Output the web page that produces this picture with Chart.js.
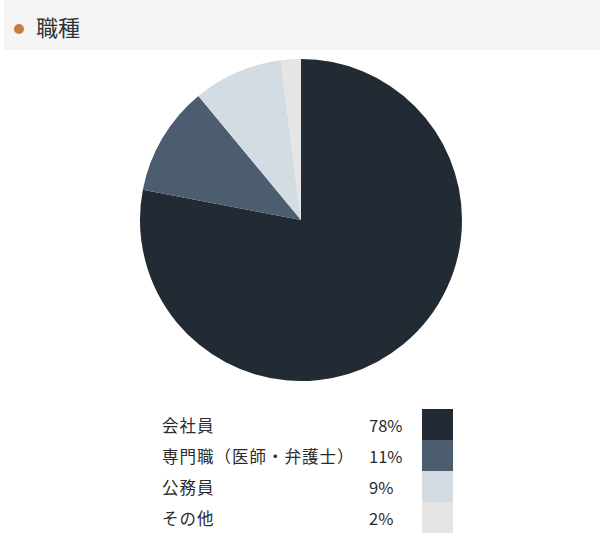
<!DOCTYPE html>
<html>
<head>
  <meta charset="utf-8">
  <title>職種</title>
  <style>
    body {
      margin: 0;
      background-color: #ffffff;
      color: #333333;
      font-family: "Noto Sans CJK JP", "Noto Sans", sans-serif;
      width: 600px;
      height: 545px;
      position: relative;
      overflow: hidden;
    }
    .heading {
      position: absolute;
      left: 4px;
      top: 0;
      width: 596px;
      height: 50px;
      background-color: #f5f5f5;
    }
    .heading .dot {
      position: absolute;
      left: 10px;
      top: 24px;
      width: 10px;
      height: 10px;
      border-radius: 50%;
      background-color: #c47c41;
    }
    .heading h2 {
      position: absolute;
      left: 32px;
      top: 11px;
      margin: 0;
      font-size: 22px;
      font-weight: normal;
      line-height: 30px;
      color: #333333;
    }
    .chart-container {
      position: absolute;
      left: 0;
      top: 50px;
      width: 600px;
      height: 340px;
    }
    table.legend {
      position: absolute;
      left: 162px;
      top: 409px;
      border-collapse: collapse;
      font-size: 16.5px;
      color: #2b2b2b;
    }
    table.legend td {
      padding: 0;
      height: 31px;
    }
    table.legend td.name { width: 207px; letter-spacing: 1px; }
    table.legend td.pct { width: 53px; }
    table.legend td.swatch { width: 31px; }
  </style>
  <script src="https://cdn.jsdelivr.net/npm/chart.js"></script>
</head>
<body>
  <div class="heading">
    <span class="dot"></span>
    <h2>職種</h2>
  </div>
  <div class="chart-container">
    <canvas id="pieCanvas"></canvas>
  </div>
  <table class="legend" id="legend"></table>

  <script>
    // Job categories and their shares (%)
    var categories = ["会社員", "専門職（医師・弁護士）", "公務員", "その他"];
    var shares = [78, 11, 9, 2];
    var sliceColors = ["#222a33", "#4b5d6e", "#d4dce3", "#e5e5e5"];

    Chart.defaults.font.family = '"Noto Sans CJK JP", sans-serif';

    var ctx = document.getElementById('pieCanvas').getContext('2d');
    var pieChart = new Chart(ctx, {
      type: 'pie',
      data: {
        labels: categories,
        datasets: [{
          data: shares,
          backgroundColor: sliceColors,
          borderWidth: 0
        }]
      },
      options: {
        responsive: true,
        maintainAspectRatio: false,
        animation: false,
        layout: {
          padding: { left: 2, top: 9, bottom: 9 }
        },
        plugins: {
          legend: { display: false },
          tooltip: { enabled: false }
        }
      }
    });

    // Build the legend table below the pie.
    var legendElem = document.getElementById('legend');
    for (var i = 0; i < categories.length; i++) {
      var row = document.createElement('tr');
      var nameCell = document.createElement('td');
      nameCell.className = 'name';
      nameCell.textContent = categories[i];
      var pctCell = document.createElement('td');
      pctCell.className = 'pct';
      pctCell.textContent = shares[i] + '%';
      var swatchCell = document.createElement('td');
      swatchCell.className = 'swatch';
      swatchCell.style.backgroundColor = sliceColors[i];
      row.appendChild(nameCell);
      row.appendChild(pctCell);
      row.appendChild(swatchCell);
      legendElem.appendChild(row);
    }
  </script>
</body>
</html>
